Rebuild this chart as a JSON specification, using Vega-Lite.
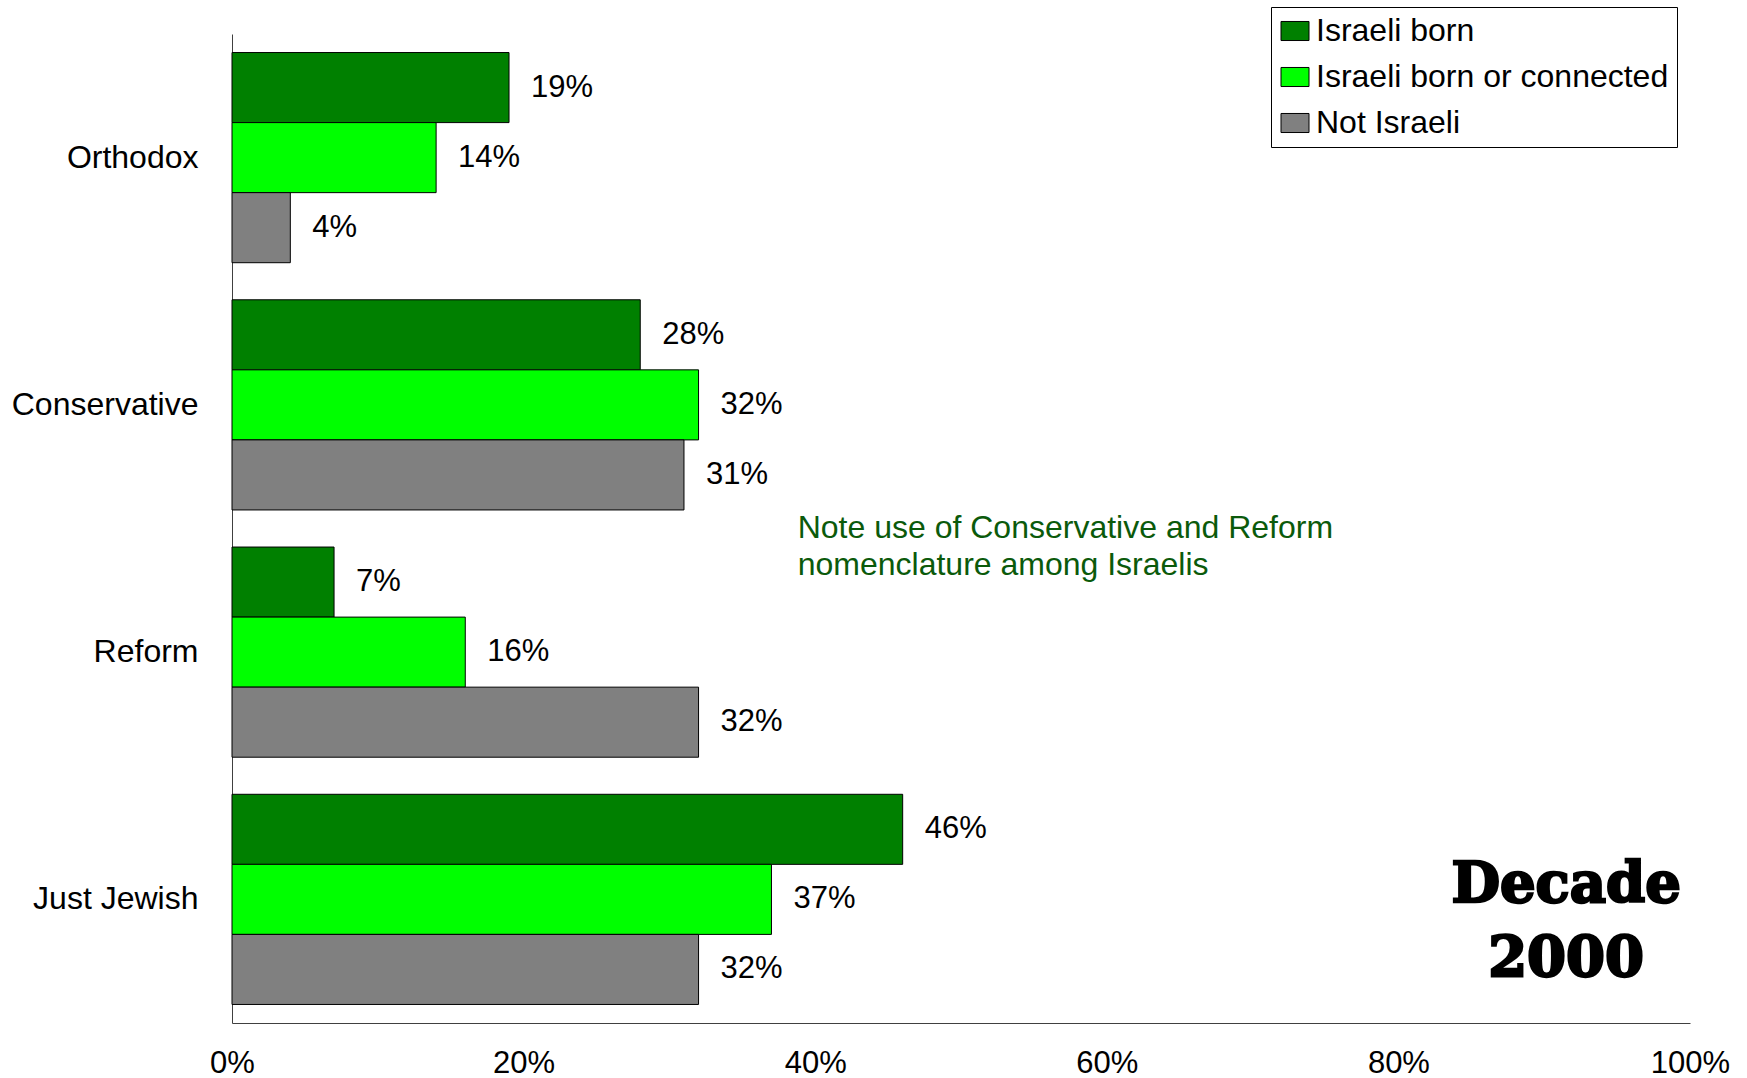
{
  "$schema": "https://vega.github.io/schema/vega-lite/v6.json",
  "width": 1458,
  "height": 989,
  "autosize": {"type": "none"},
  "padding": {"left": 232, "top": 34, "right": 57, "bottom": 55},
  "background": "white",
  "config": {"view": {"stroke": null}, "font": "Liberation Sans"},
  "datasets": {
    "bars": [
      {"cat": "Orthodox", "series": "Israeli born", "value": 0.19},
      {"cat": "Orthodox", "series": "Israeli born or connected", "value": 0.14},
      {"cat": "Orthodox", "series": "Not Israeli", "value": 0.04},
      {"cat": "Conservative", "series": "Israeli born", "value": 0.28},
      {"cat": "Conservative", "series": "Israeli born or connected", "value": 0.32},
      {"cat": "Conservative", "series": "Not Israeli", "value": 0.31},
      {"cat": "Reform", "series": "Israeli born", "value": 0.07},
      {"cat": "Reform", "series": "Israeli born or connected", "value": 0.16},
      {"cat": "Reform", "series": "Not Israeli", "value": 0.32},
      {"cat": "Just Jewish", "series": "Israeli born", "value": 0.46},
      {"cat": "Just Jewish", "series": "Israeli born or connected", "value": 0.37},
      {"cat": "Just Jewish", "series": "Not Israeli", "value": 0.32}
    ],
    "note": [
      {"cat": "Reform", "x": 0.388, "text": ["Note use of Conservative and Reform", "nomenclature among Israelis"]}
    ],
    "decade": [
      {"cat": "Just Jewish", "x": 0.915, "text": ["Decade", "2000"]}
    ]
  },
  "layer": [
    {
      "data": {"name": "bars"},
      "mark": {"type": "bar", "stroke": "black", "strokeWidth": 1},
      "encoding": {
        "y": {
          "field": "cat", "type": "nominal",
          "sort": ["Orthodox", "Conservative", "Reform", "Just Jewish"],
          "scale": {"domain": ["Orthodox", "Conservative", "Reform", "Just Jewish"], "paddingInner": 0.15, "paddingOuter": 0.075},
          "axis": {
            "title": null, "ticks": false, "grid": false, "domain": true, "domainColor": "#404040", "domainWidth": 1,
            "labelFontSize": 32, "labelPadding": 34, "labelColor": "black", "labelFont": "Liberation Sans", "labelLimit": 0
          }
        },
        "yOffset": {
          "field": "series", "type": "nominal",
          "sort": ["Israeli born", "Israeli born or connected", "Not Israeli"],
          "scale": {"paddingInner": 0, "paddingOuter": 0}
        },
        "x": {
          "field": "value", "type": "quantitative",
          "scale": {"domain": [0, 1]},
          "axis": {
            "title": null, "ticks": false, "grid": false, "domain": true, "domainColor": "#404040", "domainWidth": 1,
            "values": [0, 0.2, 0.4, 0.6, 0.8, 1], "format": ".0%",
            "labelFontSize": 31, "labelPadding": 25, "labelColor": "black", "labelFont": "Liberation Sans",
            "labelFlush": false, "labelOverlap": false
          }
        },
        "color": {
          "field": "series", "type": "nominal",
          "scale": {"domain": ["Israeli born", "Israeli born or connected", "Not Israeli"], "range": ["#008000", "#00FF00", "#808080"]},
          "legend": {
            "title": null, "orient": "none", "legendX": 1039, "legendY": -27,
            "strokeColor": "black", "fillColor": "white", "padding": 8,
            "labelFontSize": 32, "labelFont": "Liberation Sans", "labelColor": "black", "labelLimit": 0,
            "symbolType": "M-1,-0.68H1V0.68H-1Z", "symbolSize": 784,
            "symbolStrokeColor": "black", "symbolStrokeWidth": 1, "symbolOpacity": 1,
            "rowPadding": 14, "labelOffset": 5
          }
        }
      }
    },
    {
      "data": {"name": "bars"},
      "mark": {"type": "text", "align": "left", "baseline": "middle", "dx": 22, "fontSize": 31, "color": "black", "font": "Liberation Sans"},
      "encoding": {
        "y": {"field": "cat", "type": "nominal", "sort": ["Orthodox", "Conservative", "Reform", "Just Jewish"]},
        "yOffset": {"field": "series", "type": "nominal", "sort": ["Israeli born", "Israeli born or connected", "Not Israeli"]},
        "x": {"field": "value", "type": "quantitative"},
        "text": {"field": "value", "type": "quantitative", "format": ".0%"}
      }
    },
    {
      "data": {"name": "note"},
      "mark": {"type": "text", "align": "left", "baseline": "middle", "dy": -19, "fontSize": 32, "lineHeight": 37, "color": "#0B5A0B", "font": "Liberation Sans"},
      "encoding": {
        "y": {"field": "cat", "type": "nominal", "bandPosition": 0},
        "x": {"field": "x", "type": "quantitative"},
        "text": {"field": "text"}
      }
    },
    {
      "data": {"name": "decade"},
      "mark": {"type": "text", "align": "center", "baseline": "middle", "fontSize": 56, "lineHeight": 74, "fontWeight": "bold", "color": "black", "stroke": "black", "strokeWidth": 2.5, "font": "DejaVu Serif"},
      "encoding": {
        "y": {"field": "cat", "type": "nominal", "bandPosition": 0.43},
        "x": {"field": "x", "type": "quantitative"},
        "text": {"field": "text"}
      }
    }
  ]
}
